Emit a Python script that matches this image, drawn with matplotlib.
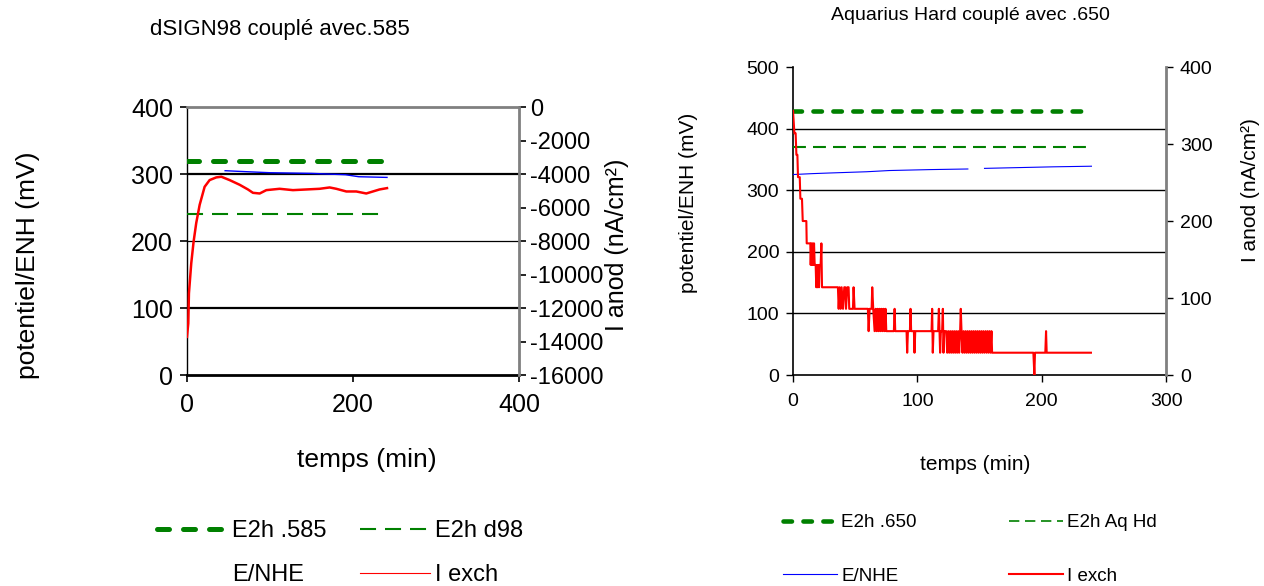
import numpy as np
import matplotlib
matplotlib.use("Agg")
import matplotlib.pyplot as plt
from matplotlib.lines import Line2D

plt.rcParams['font.family'] = ['Liberation Sans', 'DejaVu Sans']
plt.rcParams['axes.unicode_minus'] = False

# ---------------- Left chart data: dSIGN98 couplé avec .585 ----------------
left_title = "dSIGN98 couplé avec.585"
e2h_585 = 320          # mV
e2h_d98 = 240          # mV
e2h_span_left = [0, 240]

# E/NHE (mV) vs time (min)
t_enhe_left = [46, 63, 100, 150, 191, 207, 241]
enhe_left = [305, 304, 302, 301, 299, 296, 295]

# I exch (nA/cm2) vs time (min) -- plotted on the secondary axis
t_iexch_left = [0, 1.6, 2.4, 5.2, 8, 11.2, 15.3, 21.3, 27.3, 35.3, 41.4, 51.4,
                63.5, 73.5, 79.5, 87.6, 95.6, 111.6, 127.7, 143.8, 159.8, 171.9,
                179.9, 192, 204, 216, 224, 232, 241]
iexch_left = [-13720, -12920, -11120, -9320, -8040, -6920, -5840, -4760, -4360,
              -4200, -4160, -4360, -4640, -4920, -5120, -5160, -4960, -4880,
              -4960, -4920, -4880, -4800, -4880, -5040, -5040, -5160, -5040,
              -4920, -4840]

# ---------------- Right chart data: Aquarius Hard couplé avec .650 ----------------
right_title = "Aquarius Hard couplé avec .650"
e2h_650 = 428
e2h_aqhd = 370
e2h_span_right = [0, 240]

t_enhe_right = [0, 5.4, 16, 29.5, 59, 77.6, 110, 140.6, 147, 154, 187, 209, 240]
enhe_right = [325.5, 326, 327, 328, 330, 332, 333.5, 334.5, np.nan, 335.5, 337, 338, 339]

t_iexch_right = [0, 1.1, 2.1, 2.7, 3.5, 4.0, 5.4, 5.9, 7.2, 7.8, 10.7, 11.0, 13.9,
                 14.2, 14.7, 15.3, 15.8, 16.3, 16.9, 17.4, 18.2, 18.7, 19.3, 19.8,
                 20.3, 20.9, 21.4, 22.2, 22.8, 23.3, 36.1, 36.7, 37.5, 38.3, 39.1,
                 40.2, 41.2, 42.0, 42.6, 43.6, 44.7, 45.2, 48.2, 48.7, 49.5, 60.2,
                 60.8, 61.6, 63.2, 63.7, 64.5, 65.6, 66.4, 67.2, 68.0, 68.8, 69.6,
                 70.4, 71.2, 72.0, 72.8, 73.6, 74.4, 75.0, 81.1, 81.7, 82.2, 91.3,
                 91.8, 92.4, 94.0, 94.5, 95.0, 97.2, 97.7, 98.3, 111.4, 111.9, 112.4,
                 113.0, 116.7, 117.3, 117.8, 118.3, 118.9, 119.9, 120.5, 121.0, 121.6,
                 123.2, 124.0, 124.8, 125.6, 126.4, 127.2, 128.0, 128.8, 129.6, 130.4,
                 131.2, 132.0, 132.8, 133.6, 134.4, 134.9, 135.5, 136.3, 137.1, 137.9,
                 138.7, 139.5, 140.3, 141.1, 141.9, 142.7, 143.5, 144.3, 145.1, 145.9,
                 146.7, 147.5, 148.3, 149.1, 149.9, 150.7, 151.5, 152.3, 153.1, 153.9,
                 154.8, 155.6, 156.4, 157.2, 158.0, 158.8, 159.6, 160.1, 193.3, 194.1,
                 194.6, 202.9, 203.5, 204.0, 239.6]
iexch_right = [343, 314, 314, 286, 286, 257, 257, 229, 229, 200, 200, 171, 171,
               143, 171, 143, 171, 143, 171, 143, 143, 114, 143, 114,
               143, 114, 143, 143, 171, 114, 114, 86, 114, 86, 114,
               86, 114, 114, 86, 114, 114, 86, 86, 114, 86, 86,
               57, 86, 86, 114, 86, 57, 86, 57, 86, 57, 86,
               57, 86, 57, 86, 57, 86, 57, 57, 86, 57, 57,
               29, 57, 57, 86, 57, 57, 29, 57, 57, 86, 29,
               57, 57, 86, 57, 29, 57, 57, 86, 29, 57,
               57, 29, 57, 29, 57, 29, 57, 29, 57, 29,
               57, 29, 57, 29, 57, 86, 57, 29, 57, 29,
               57, 29, 57, 29, 57, 29, 57, 29, 57, 29,
               57, 29, 57, 29, 57, 29, 57, 29, 57, 29,
               57, 29, 57, 29, 57, 29, 57, 29, 29, 0,
               29, 29, 57, 29, 29]

GREEN = "#008000"
RED = "#FF0000"
BLUE = "#0000FF"
GREY = "#808080"

fig = plt.figure(figsize=(12.64, 5.86), dpi=100)

# ======================= LEFT CHART =======================
ax1 = fig.add_axes([0.1479, 0.360, 0.2627, 0.4573])
ax1.set_xlim(0, 400)
ax1.set_ylim(0, 400)
ax1.set_xticks([0, 200, 400])
ax1.set_yticks([0, 100, 200, 300, 400])
for y, lw in [(100, 1.6), (200, 0.9), (300, 1.6)]:
    ax1.axhline(y, color="black", lw=lw, zorder=1)
ax1.plot(e2h_span_left, [e2h_585] * 2, color=GREEN, lw=3.6,
         dashes=(2.4, 2.8), dash_capstyle="round", zorder=3)
ax1.plot(e2h_span_left, [e2h_d98] * 2, color=GREEN, lw=1.5,
         dashes=(7.7, 4.3), zorder=3)
ax1.plot(t_enhe_left, enhe_left, color=BLUE, lw=1.0, zorder=3)
ax1.spines['top'].set_color(GREY)
ax1.spines['top'].set_linewidth(2)
ax1.spines['right'].set_visible(False)
ax1.spines['bottom'].set_linewidth(2)
ax1.spines['left'].set_linewidth(1)
ax1.tick_params(axis='both', direction='out', length=5, width=1.2,
                labelsize=18, pad=5)
ax1.tick_params(axis='x', pad=8)

ax1b = ax1.twinx()
ax1b.set_ylim(-16000, 0)
ax1b.set_yticks(list(range(-16000, 1, 2000)))
ax1b.plot(t_iexch_left, iexch_left, color=RED, lw=1.8, zorder=4)
ax1b.spines['right'].set_color(GREY)
ax1b.spines['right'].set_linewidth(2)
for s in ['top', 'left', 'bottom']:
    ax1b.spines[s].set_visible(False)
ax1b.tick_params(axis='y', direction='out', length=5, width=1.2,
                 labelsize=17, pad=3)

fig.text(280 / 1264, 1 - 30 / 586, left_title, ha='center', va='center', fontsize=16)
fig.text(367 / 1264, 1 - 460 / 586, "temps (min)", ha='center', va='center', fontsize=19)
fig.text(28 / 1264, 1 - 265 / 586, "potentiel/ENH (mV)", ha='center', va='center',
         rotation=90, fontsize=19)
fig.text(617 / 1264, 1 - 245 / 586, "I anod (nA/cm²)", ha='center', va='center',
         rotation=90, fontsize=18)

h1 = [Line2D([], [], color=GREEN, lw=3.6, dashes=(2.4, 2.8), dash_capstyle="round"),
      Line2D([], [], color="none", lw=1.0),
      Line2D([], [], color=GREEN, lw=1.5, dashes=(7.7, 4.3)),
      Line2D([], [], color=RED, lw=0.8)]
l1 = ["E2h .585", "E/NHE", "E2h d98", "I exch"]
fig.legend(h1, l1, ncol=2, frameon=False, fontsize=17, handlelength=3.0,
           handletextpad=0.18, columnspacing=1.4, labelspacing=0.95,
           borderpad=0, borderaxespad=0,
           loc='upper left', bbox_to_anchor=(157 / 1264, 1 - 520 / 586))

# ======================= RIGHT CHART =======================
ax2 = fig.add_axes([0.6274, 0.360, 0.2951, 0.5256])
ax2.set_xlim(0, 300)
ax2.set_ylim(0, 500)
ax2.set_xticks([0, 100, 200, 300])
ax2.set_yticks([0, 100, 200, 300, 400, 500])
for y in [100, 200, 300, 400]:
    ax2.axhline(y, color="black", lw=1.0, zorder=1)
ax2.plot(e2h_span_right, [e2h_650] * 2, color=GREEN, lw=3.3,
         dashes=(1.85, 2.5), dash_capstyle="round", zorder=3)
ax2.plot(e2h_span_right, [e2h_aqhd] * 2, color=GREEN, lw=1.5,
         dashes=(6.2, 3.4), zorder=3)
ax2.plot(t_enhe_right, enhe_right, color=BLUE, lw=0.8, zorder=3)
ax2.spines['top'].set_visible(False)
ax2.spines['right'].set_visible(False)
ax2.spines['bottom'].set_linewidth(1.2)
ax2.spines['left'].set_linewidth(1.2)
ax2.tick_params(axis='both', direction='out', length=5, width=1.0,
                labelsize=14, pad=5)
ax2.tick_params(axis='x', pad=8)

ax2b = ax2.twinx()
ax2b.set_ylim(0, 400)
ax2b.set_yticks([0, 100, 200, 300, 400])
ax2b.plot(t_iexch_right, iexch_right, color=RED, lw=1.5, zorder=4)
ax2b.spines['right'].set_color(GREY)
ax2b.spines['right'].set_linewidth(2)
for s in ['top', 'left', 'bottom']:
    ax2b.spines[s].set_visible(False)
ax2b.tick_params(axis='y', direction='out', length=5, width=1.0,
                 labelsize=14, pad=5)

fig.text(970 / 1264, 1 - 16 / 586, right_title, ha='center', va='center', fontsize=14)
fig.text(975 / 1264, 1 - 465 / 586, "temps (min)", ha='center', va='center', fontsize=15)
fig.text(688 / 1264, 1 - 203 / 586, "potentiel/ENH (mV)", ha='center', va='center',
         rotation=90, fontsize=15)
fig.text(1250 / 1264, 1 - 190 / 586, "I anod (nA/cm²)", ha='center', va='center',
         rotation=90, fontsize=15)

h2 = [Line2D([], [], color=GREEN, lw=3.3, dashes=(1.85, 2.5), dash_capstyle="round"),
      Line2D([], [], color=BLUE, lw=0.8),
      Line2D([], [], color=GREEN, lw=1.2, dashes=(6.2, 3.4)),
      Line2D([], [], color=RED, lw=1.5)]
l2 = ["E2h .650", "E/NHE", "E2h Aq Hd", "I exch"]
fig.legend(h2, l2, ncol=2, frameon=False, fontsize=13.5, handlelength=2.9,
           handletextpad=0.2, columnspacing=4.9, labelspacing=1.95,
           borderpad=0, borderaxespad=0,
           loc='upper left', bbox_to_anchor=(783 / 1264, 1 - 514 / 586))

fig.savefig("out.png", dpi=100)
